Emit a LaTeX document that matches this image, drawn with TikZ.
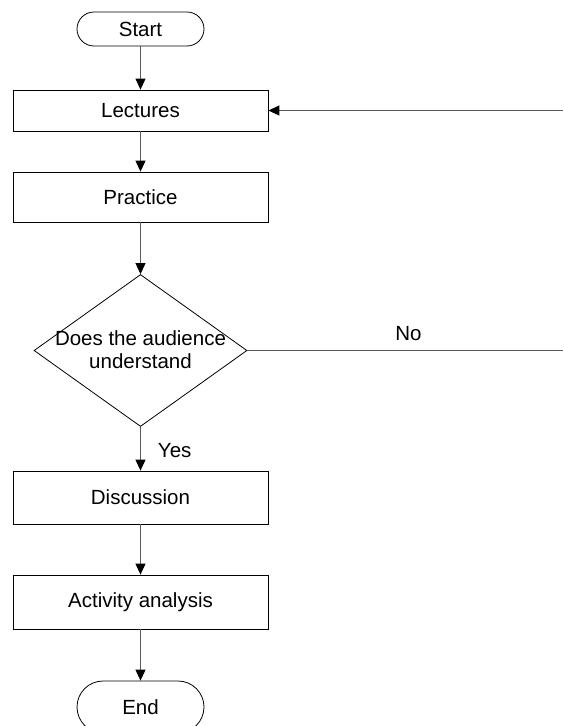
\documentclass[tikz,border=0pt]{standalone}
\usepackage{fontspec}
\setmainfont{Liberation Sans}
\usetikzlibrary{shapes.geometric,arrows.meta}
\tikzset{
	box/.style={draw, line width=0.8pt, minimum width=255pt, inner sep=0pt},
	terminal/.style={draw, line width=0.8pt, minimum width=127pt, rounded corners=17pt, inner sep=0pt},
	decision/.style={draw, diamond, line width=0.8pt, minimum width=213pt, minimum height=152pt, inner sep=0pt},
	flow/.style={line width=0.9pt, color=black!65, -{Triangle[length=11pt,width=10pt,color=black]}},
	plain/.style={line width=0.9pt, color=black!65},
	tag/.style={text=black, inner sep=0pt},
}

\begin{document}
\begin{tikzpicture}[x=1pt, y=-1pt, font=\fontsize{20.5}{23}\selectfont]
		%%%%% START %%%%%
		\clip (0, 0) rectangle (563, 726);
		
		\node[terminal, minimum height=34pt] (start) at (140.5, 29) {Start};
		\node[box, minimum height=41pt] (lectures) at (140.5, 110.5) {Lectures};
		\node[box, minimum height=50pt] (practice) at (140.5, 197) {Practice};
		
		\node[decision] (check) at (140.5, 350.5) {};
		\node[align=center, inner sep=0pt] (checktext) at (140.5, 350) {Does the audience\\understand};
		
		\node[box, minimum height=53pt] (discussion) at (140.5, 497.5) {Discussion};
		\node[box, minimum height=54pt] (analysis) at (140.5, 602) {Activity analysis};
		\node[terminal, minimum height=52pt, rounded corners=26pt] (end) at (140.5, 707) {End};
		
		\coordinate (noend) at (563, 350.5);
		\coordinate (backin) at (563, 110.5);
		
		\draw[flow] (start) -- (lectures);
		\draw[flow] (lectures) -- (practice);
		\draw[flow] (practice) -- (check);
		\draw[flow] (check) -- node[tag, right, xshift=17pt, yshift=-2pt] (yes) {Yes} (discussion);
		\draw[flow] (discussion) -- (analysis);
		\draw[flow] (analysis) -- (end);
		
		\draw[plain] (check.east) -- node[tag, above, pos=0.51, yshift=9pt] (no) {No} (noend);
		\draw[flow] (backin) -- (lectures.east);
		
		%%%%% END %%%%%
	\end{tikzpicture}
\end{document}
